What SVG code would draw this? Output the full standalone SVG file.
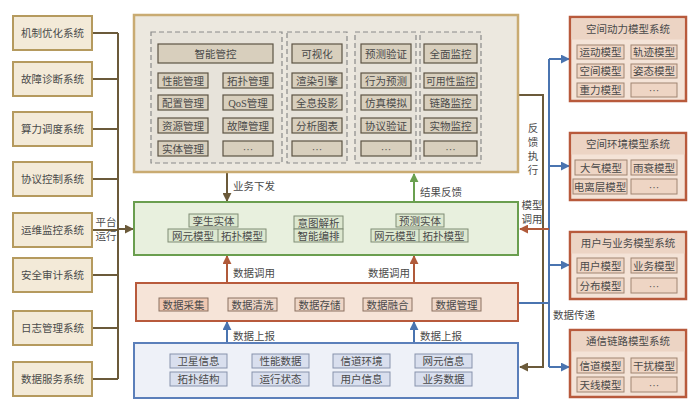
<svg xmlns="http://www.w3.org/2000/svg" width="700" height="409" viewBox="0 0 700 409">
<defs>
<style>
text{font-family:"Liberation Serif","Noto Sans CJK SC",serif;fill:#4a4a4a;font-size:10.5px;text-anchor:middle}
.lbl{font-size:10.5px}
.la{text-anchor:start}
.le{text-anchor:end}
.sys{fill:#f3ead8;stroke:#b59a5e;stroke-width:2}
.top{fill:#ece8df;stroke:#c9ab72;stroke-width:2.5}
.grp{fill:#e7e3da;stroke:#8a8a8a;stroke-width:1.2;stroke-dasharray:5 3}
.ti{fill:#d8cfbd;stroke:#5d5444;stroke-width:1.2}
.gbox{fill:#e8f0de;stroke:#6a9e4f;stroke-width:2}
.gi{fill:#dde8d0;stroke:#7f8c74;stroke-width:1}
.dbox{fill:#f6e4d8;stroke:#b85a3c;stroke-width:2}
.di{fill:#eed6c7;stroke:#8a7060;stroke-width:1}
.bbox{fill:#eef1f8;stroke:#5b7fba;stroke-width:2}
.bi{fill:#d9dfee;stroke:#8793ac;stroke-width:1}
.rbox{fill:#f4e3d7;stroke:#b85a3c;stroke-width:2.5}
.band{fill:#ecd4c4;stroke:none}
.ri{fill:#eed5c4;stroke:#a08572;stroke-width:1}
.brn{stroke:#6b5a3a;stroke-width:2;fill:none}
.blu{stroke:#4a74b0;stroke-width:2;fill:none}
.red{stroke:#b05a3a;stroke-width:2;fill:none}
.grn{stroke:#6aa050;stroke-width:2;fill:none}
</style>
<marker id="aBrn" viewBox="0 0 10 10" refX="9" refY="5" markerWidth="9" markerHeight="9" markerUnits="userSpaceOnUse" orient="auto"><path d="M0,0 L10,5 L0,10 z" fill="#6b5a3a"/></marker>
<marker id="aBlu" viewBox="0 0 10 10" refX="9" refY="5" markerWidth="9" markerHeight="9" markerUnits="userSpaceOnUse" orient="auto"><path d="M0,0 L10,5 L0,10 z" fill="#4a74b0"/></marker>
<marker id="aRed" viewBox="0 0 10 10" refX="9" refY="5" markerWidth="9" markerHeight="9" markerUnits="userSpaceOnUse" orient="auto"><path d="M0,0 L10,5 L0,10 z" fill="#b05a3a"/></marker>
<marker id="aGrn" viewBox="0 0 10 10" refX="9" refY="5" markerWidth="9" markerHeight="9" markerUnits="userSpaceOnUse" orient="auto"><path d="M0,0 L10,5 L0,10 z" fill="#6aa050"/></marker>
</defs>
<rect width="700" height="409" fill="#ffffff"/>

<!-- connectors -->
<g id="connectors">
<path class="brn" d="M92,33 H118 M92,79 H118 M92,129 H118 M92,179 H118 M92,230 H118 M92,275 H118 M92,328 H118 M92,379 H118 M118,33 V379"/>
<path class="brn" d="M118,229 H133" marker-end="url(#aBrn)"/>
<text class="lbl" x="106" y="226">平台</text>
<text class="lbl" x="106" y="240">运行</text>
<path class="brn" d="M227,173 V201" marker-end="url(#aBrn)"/>
<text class="lbl la" x="233" y="190">业务下发</text>
<path class="grn" d="M414,201 V174" marker-end="url(#aGrn)"/>
<text class="lbl la" x="420" y="196">结果反馈</text>
<path class="red" d="M227,282 V256" marker-end="url(#aRed)"/>
<path class="red" d="M414,282 V256" marker-end="url(#aRed)"/>
<text class="lbl la" x="233" y="277">数据调用</text>
<text class="lbl le" x="410" y="277">数据调用</text>
<path class="blu" d="M227,342 V322" marker-end="url(#aBlu)"/>
<path class="blu" d="M414,342 V322" marker-end="url(#aBlu)"/>
<text class="lbl la" x="233" y="340">数据上报</text>
<text class="lbl la" x="420" y="340">数据上报</text>
<path class="brn" d="M519,95 H543 V367 H520" marker-end="url(#aBrn)"/>
<text class="lbl" x="533" y="132">反</text>
<text class="lbl" x="533" y="146">馈</text>
<text class="lbl" x="533" y="160">执</text>
<text class="lbl" x="533" y="174">行</text>
<path class="blu" d="M518,303 H549 M549,59 V367"/>
<path class="blu" d="M549,59 H569" marker-end="url(#aBlu)"/>
<path class="blu" d="M549,166 H569" marker-end="url(#aBlu)"/>
<path class="blu" d="M549,265 H569" marker-end="url(#aBlu)"/>
<path class="blu" d="M549,367 H569" marker-end="url(#aBlu)"/>
<text class="lbl la" x="553" y="319">数据传递</text>
<path class="red" d="M549,229 H520" marker-end="url(#aRed)"/>
<text class="lbl" x="532" y="209">模型</text>
<text class="lbl" x="532" y="223">调用</text>
</g>

<!-- left systems -->
<g id="sys1"><rect class="sys" x="13" y="16" width="79" height="34"/><text x="52.5" y="37">机制优化系统</text></g>
<g id="sys2"><rect class="sys" x="13" y="62" width="79" height="34"/><text x="52.5" y="83">故障诊断系统</text></g>
<g id="sys3"><rect class="sys" x="13" y="112" width="79" height="34"/><text x="52.5" y="133">算力调度系统</text></g>
<g id="sys4"><rect class="sys" x="13" y="162" width="79" height="34"/><text x="52.5" y="183">协议控制系统</text></g>
<g id="sys5"><rect class="sys" x="13" y="213" width="79" height="34"/><text x="52.5" y="234">运维监控系统</text></g>
<g id="sys6"><rect class="sys" x="13" y="258" width="79" height="34"/><text x="52.5" y="279">安全审计系统</text></g>
<g id="sys7"><rect class="sys" x="13" y="311" width="79" height="34"/><text x="52.5" y="332">日志管理系统</text></g>
<g id="sys8"><rect class="sys" x="13" y="362" width="79" height="34"/><text x="52.5" y="383">数据服务系统</text></g>

<!-- top application box -->
<g id="app">
<rect class="top" x="134" y="15" width="384" height="157"/>
<rect class="grp" x="151" y="32" width="131" height="131"/>
<rect class="grp" x="287" y="32" width="60" height="131"/>
<rect class="grp" x="355" y="32" width="61" height="131"/>
<rect class="grp" x="420" y="32" width="61" height="131"/>
<rect class="ti" x="158" y="44" width="115" height="19"/><text x="215.5" y="57.5">智能管控</text>
<rect class="ti" x="158" y="73" width="50" height="15"/><text x="183" y="84.5">性能管理</text>
<rect class="ti" x="223" y="73" width="50" height="15"/><text x="248" y="84.5">拓扑管理</text>
<rect class="ti" x="158" y="95" width="50" height="15"/><text x="183" y="106.5">配置管理</text>
<rect class="ti" x="223" y="95" width="50" height="15"/><text x="248" y="106.5">QoS管理</text>
<rect class="ti" x="158" y="118" width="50" height="15"/><text x="183" y="129.5">资源管理</text>
<rect class="ti" x="223" y="118" width="50" height="15"/><text x="248" y="129.5">故障管理</text>
<rect class="ti" x="158" y="141" width="50" height="15"/><text x="183" y="152.5">实体管理</text>
<rect class="ti" x="223" y="141" width="50" height="15"/><text x="248" y="152.5">···</text>
<rect class="ti" x="292" y="44" width="50" height="19"/><text x="317" y="57.5">可视化</text>
<rect class="ti" x="292" y="73" width="50" height="15"/><text x="317" y="84.5">渲染引擎</text>
<rect class="ti" x="292" y="95" width="50" height="15"/><text x="317" y="106.5">全息投影</text>
<rect class="ti" x="292" y="118" width="50" height="15"/><text x="317" y="129.5">分析图表</text>
<rect class="ti" x="292" y="141" width="50" height="15"/><text x="317" y="152.5">···</text>
<rect class="ti" x="361" y="44" width="50" height="19"/><text x="386" y="57.5">预测验证</text>
<rect class="ti" x="361" y="73" width="50" height="15"/><text x="386" y="84.5">行为预测</text>
<rect class="ti" x="361" y="95" width="50" height="15"/><text x="386" y="106.5">仿真模拟</text>
<rect class="ti" x="361" y="118" width="50" height="15"/><text x="386" y="129.5">协议验证</text>
<rect class="ti" x="361" y="141" width="50" height="15"/><text x="386" y="152.5">···</text>
<rect class="ti" x="424" y="44" width="53" height="19"/><text x="450.5" y="57.5">全面监控</text>
<rect class="ti" x="424" y="73" width="53" height="15"/><text x="450.5" y="84.5" style="font-size:9.8px">可用性监控</text>
<rect class="ti" x="424" y="95" width="53" height="15"/><text x="450.5" y="106.5">链路监控</text>
<rect class="ti" x="424" y="118" width="53" height="15"/><text x="450.5" y="129.5">实物监控</text>
<rect class="ti" x="424" y="141" width="53" height="15"/><text x="450.5" y="152.5">···</text>
</g>

<!-- twin layer -->
<g id="twin">
<rect class="gbox" x="134" y="202" width="384" height="53"/>
<rect class="gi" x="189" y="214" width="49" height="13"/><text x="213.5" y="224.5">孪生实体</text>
<rect class="gi" x="168" y="229" width="98" height="13"/><line x1="218" y1="229" x2="218" y2="242" stroke="#7f8c74"/>
<text x="193" y="239.5">网元模型</text><text x="242" y="239.5">拓扑模型</text>
<rect class="gi" x="294" y="216" width="49" height="13"/><text x="318.5" y="226.5">意图解析</text>
<rect class="gi" x="294" y="229" width="49" height="13"/><text x="318.5" y="239.5">智能编排</text>
<rect class="gi" x="396" y="214" width="48" height="13"/><text x="420" y="224.5">预测实体</text>
<rect class="gi" x="371" y="229" width="97" height="13"/><line x1="419" y1="229" x2="419" y2="242" stroke="#7f8c74"/>
<text x="395" y="239.5">网元模型</text><text x="443.5" y="239.5">拓扑模型</text>
</g>

<!-- data layer -->
<g id="data">
<rect class="dbox" x="136" y="283" width="382" height="38"/>
<rect class="di" x="159" y="298" width="49" height="13" style="fill:#efc7b1"/><text x="183.5" y="308.5">数据采集</text>
<rect class="di" x="228" y="298" width="49" height="13"/><text x="252.5" y="308.5">数据清洗</text>
<rect class="di" x="295" y="298" width="49" height="13"/><text x="319.5" y="308.5">数据存储</text>
<rect class="di" x="363" y="298" width="49" height="13"/><text x="387.5" y="308.5">数据融合</text>
<rect class="di" x="432" y="298" width="49" height="13"/><text x="456.5" y="308.5">数据管理</text>
</g>

<!-- source layer -->
<g id="source">
<rect class="bbox" x="134" y="343" width="384" height="55"/>
<rect class="bi" x="170" y="354" width="57" height="14"/><text x="198.5" y="365">卫星信息</text>
<rect class="bi" x="252" y="354" width="57" height="14"/><text x="280.5" y="365">性能数据</text>
<rect class="bi" x="333" y="354" width="57" height="14"/><text x="361.5" y="365">信道环境</text>
<rect class="bi" x="415" y="354" width="57" height="14"/><text x="443.5" y="365">网元信息</text>
<rect class="bi" x="170" y="372" width="57" height="14"/><text x="198.5" y="383">拓扑结构</text>
<rect class="bi" x="252" y="372" width="57" height="14"/><text x="280.5" y="383">运行状态</text>
<rect class="bi" x="333" y="372" width="57" height="14"/><text x="361.5" y="383">用户信息</text>
<rect class="bi" x="415" y="372" width="57" height="14"/><text x="443.5" y="383">业务数据</text>
</g>

<!-- right model systems -->
<g id="mA">
<rect class="rbox" x="570" y="17" width="116" height="84"/>
<rect class="band" x="571.5" y="18.5" width="113" height="21"/>
<text x="628" y="33">空间动力模型系统</text>
<rect class="ri" x="577" y="45" width="47" height="14"/><text x="600.5" y="56">运动模型</text>
<rect class="ri" x="631" y="45" width="46" height="14"/><text x="654" y="56">轨迹模型</text>
<rect class="ri" x="577" y="64" width="47" height="14"/><text x="600.5" y="75">空间模型</text>
<rect class="ri" x="631" y="64" width="46" height="14"/><text x="654" y="75">姿态模型</text>
<rect class="ri" x="577" y="83" width="47" height="14"/><text x="600.5" y="94">重力模型</text>
<rect class="ri" x="631" y="83" width="46" height="14"/><text x="654" y="94">···</text>
</g>
<g id="mB">
<rect class="rbox" x="570" y="133" width="116" height="67"/>
<rect class="band" x="571.5" y="134.5" width="113" height="20"/>
<text x="628" y="148">空间环境模型系统</text>
<rect class="ri" x="575" y="160" width="52" height="15"/><text x="601" y="171.5">大气模型</text>
<rect class="ri" x="631" y="160" width="46" height="15"/><text x="654" y="171.5">雨衰模型</text>
<rect class="ri" x="573" y="179" width="54" height="15"/><text x="600" y="190.5">电离层模型</text>
<rect class="ri" x="631" y="179" width="46" height="15"/><text x="654" y="190.5">···</text>
</g>
<g id="mC">
<rect class="rbox" x="570" y="232" width="116" height="67"/>
<rect class="band" x="571.5" y="233.5" width="113" height="20"/>
<text x="628" y="247">用户与业务模型系统</text>
<rect class="ri" x="577" y="258" width="47" height="15"/><text x="600.5" y="269.5">用户模型</text>
<rect class="ri" x="631" y="258" width="46" height="15"/><text x="654" y="269.5">业务模型</text>
<rect class="ri" x="577" y="278" width="47" height="15"/><text x="600.5" y="289.5">分布模型</text>
<rect class="ri" x="631" y="278" width="46" height="15"/><text x="654" y="289.5">···</text>
</g>
<g id="mD">
<rect class="rbox" x="570" y="330" width="116" height="67"/>
<rect class="band" x="571.5" y="331.5" width="113" height="20"/>
<text x="628" y="345">通信链路模型系统</text>
<rect class="ri" x="577" y="358" width="47" height="15"/><text x="600.5" y="369.5">信道模型</text>
<rect class="ri" x="631" y="358" width="46" height="15"/><text x="654" y="369.5">干扰模型</text>
<rect class="ri" x="577" y="377" width="47" height="15"/><text x="600.5" y="388.5">天线模型</text>
<rect class="ri" x="631" y="377" width="46" height="15"/><text x="654" y="388.5">···</text>
</g>
</svg>
